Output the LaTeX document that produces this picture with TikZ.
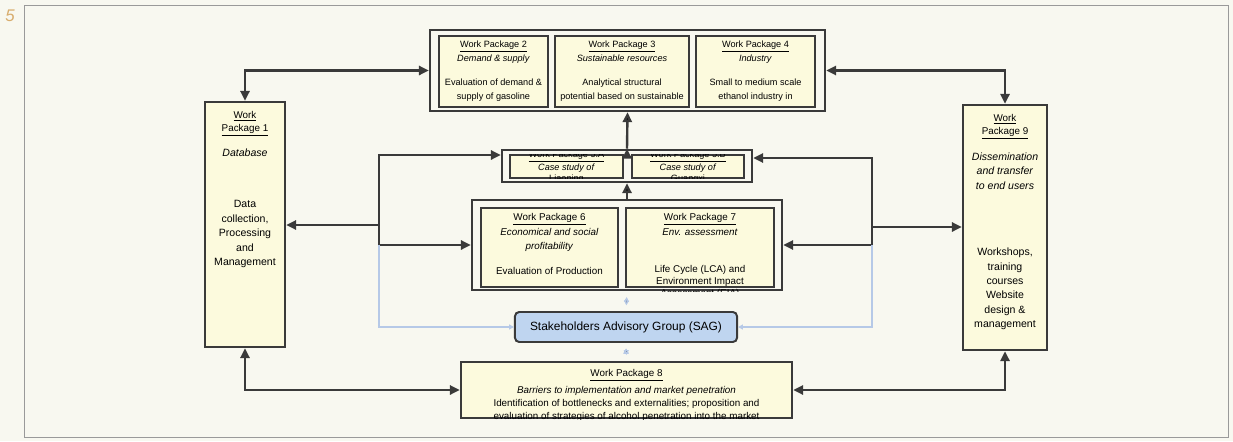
\documentclass[tikz,border=0pt]{standalone}
\usepackage{fontspec}
\setmainfont{Liberation Sans}
\usepackage{tikz}
\usetikzlibrary{arrows.meta,calc,fit}
\definecolor{paper}{HTML}{F8F8F0}
\definecolor{wpfill}{HTML}{FCFADD}
\definecolor{wpline}{HTML}{3A3A3A}
\definecolor{sagfill}{HTML}{BFD5F0}
\definecolor{sagline}{HTML}{B6C9E7}
\definecolor{framegray}{HTML}{9A9A9A}
\definecolor{pagenum}{HTML}{D8AD6E}
\tikzset{WP style/.style={>={Triangle[length=7pt,width=6.5pt]},every node/.append style={inner sep=0pt}}}
\newcommand{\wpname}[1]{\underline{Work Package #1}}
\newcommand{\wpfont}{\fontsize{6.5}{9.5}\selectfont}

\begin{document}
\begin{tikzpicture}[x=0.025cm,y=-0.025cm,WP style]
	\tikzstyle{group}=[draw=wpline,line width=1.8pt,fill=paper]
	\tikzstyle{wpbox}=[draw=wpline,line width=1.2pt,fill=wpfill]
	\tikzstyle{wpside}=[wpbox,line width=1.8pt]
	\tikzstyle{wptext}=[align=center,font=\wpfont]
	\tikzstyle{link}=[draw=wpline,line width=1.7pt]
	\tikzstyle{saglink}=[draw=sagline,line width=0.9pt,>={Triangle[length=3.5pt,width=3.5pt]}]
	
	\useasboundingbox (0,0) rectangle (1233,441);
	\fill[paper] (0,0) rectangle (1233,441);
	\draw[framegray,line width=0.7pt] (24,5) rectangle (1228,437);
	\node[text=pagenum,font=\fontsize{12}{12}\selectfont\itshape] (pagenum) at (10,16) {5};
	
	% groups of work packages
	\node[group,fit={(430,30) (825,111)}] (wptop) {};
	\node[group,fit={(502,150) (752,182)}] (wp5grp) {};
	\node[group,fit={(472,200) (782,290)}] (wp67grp) {};
	
	\node[wpbox,fit={(439,36) (548,107)}] (wp2) {};
	\node[wpbox,fit={(555,36) (689,107)}] (wp3) {};
	\node[wpbox,fit={(696,36) (815,107)}] (wp4) {};
	\node[wpbox,fit={(510,155) (623,178)}] (wp5a) {};
	\node[wpbox,fit={(632,155) (744,178)}] (wp5b) {};
	\node[wpbox,fit={(481,208) (618,287)}] (wp6) {};
	\node[wpbox,fit={(626,208) (774,287)}] (wp7) {};
	
	\node[wpside,fit={(205,102) (285,347)}] (wp1) {};
	\node[wpside,fit={(963,105) (1047,350)}] (wp9) {};
	\node[wpside,fit={(461,362) (792,418)}] (wp8) {};
	\node[draw=wpline,line width=1.4pt,fill=sagfill,rounded corners=3pt,
	minimum width=5.55cm,minimum height=0.75cm,
	font=\fontsize{8.5}{10}\selectfont] (sag) at (626,327) {Stakeholders Advisory Group (SAG)};
	
	% texts
	\node[wptext,anchor=north] (wp2txt) at (493.5,41) {\wpname{2}\\\textit{Demand \& supply}\\[8pt]Evaluation of demand \&\\supply of gasoline};
	\node[wptext,anchor=north] (wp3txt) at (622,41) {\wpname{3}\\\textit{Sustainable resources}\\[8pt]Analytical structural\\potential based on sustainable};
	\node[wptext,anchor=north] (wp4txt) at (755.5,41) {\wpname{4}\\\textit{Industry}\\[8pt]Small to medium scale\\ethanol industry in};
	\begin{scope}
		\clip (wp5a.north west) rectangle (wp5a.south east);
		\node[wptext,font=\fontsize{6.5}{7.8}\selectfont] (wp5atxt) at ($(wp5a.center)+(0,0.5)$) {\wpname{5.A}\\\textit{Case study of}\\Liaoning};
	\end{scope}
	\begin{scope}
		\clip (wp5b.north west) rectangle (wp5b.south east);
		\node[wptext,font=\fontsize{6.5}{7.8}\selectfont] (wp5btxt) at ($(wp5b.center)+(0,0.5)$) {\wpname{5.B}\\\textit{Case study of}\\Guangxi};
	\end{scope}
	\node[wptext,anchor=north,font=\fontsize{7}{10.5}\selectfont] (wp6txt) at (549.5,213) {\wpname{6}\\\textit{Economical and social}\\\textit{profitability}\\[7pt]Evaluation of Production};
	\node[wptext,anchor=north,font=\fontsize{7}{10.5}\selectfont] (wp7txt) at (700,213) {\wpname{7}\\\textit{Env. assessment}};
	\begin{scope}
		\clip (wp67grp.north west) rectangle (wp67grp.south east);
		\node[wptext,anchor=north,font=\fontsize{7}{8.5}\selectfont] (wp7body) at (700,265) {Life Cycle (LCA) and\\Environment Impact\\Assessment (EIA)};
	\end{scope}
	\begin{scope}
		\clip (wp8.north west) rectangle (wp8.south east);
		\node[wptext,anchor=north,font=\fontsize{7}{9.2}\selectfont] (wp8txt) at (626.5,369) {\wpname{8}\\[3pt]\textit{Barriers to implementation and market penetration}\\Identification of bottlenecks and externalities; proposition and\\evaluation of strategies of alcohol penetration into the market};
	\end{scope}
	
	\node[wptext,anchor=north,font=\fontsize{7}{9}\selectfont] (wp1title) at (245,111) {\underline{Work}\\\underline{Package 1}};
	\node[wptext,font=\fontsize{7.5}{10.3}\selectfont] (wp1focus) at (245,153) {\textit{Database}};
	\node[wptext,font=\fontsize{7.5}{10.3}\selectfont] (wp1body) at (245,234) {Data\\collection,\\Processing\\and\\Management};
	
	\node[wptext,anchor=north,font=\fontsize{7}{9}\selectfont] (wp9title) at (1005,114) {\underline{Work}\\\underline{Package 9}};
	\node[wptext,font=\fontsize{7.5}{10.3}\selectfont] (wp9focus) at (1005,171) {\textit{Dissemination}\\\textit{and transfer}\\\textit{to end users}};
	\node[wptext,font=\fontsize{7.5}{10.3}\selectfont] (wp9body) at (1005,289) {Workshops,\\training\\courses\\Website\\design \&\\management};
	
	% connectors
	\coordinate (jl) at (379,225);
	\coordinate (jr) at (872,227);
	
	\draw[link,<->] (wptop.west) -| (wp1.north);
	\draw[link,<->] (wptop.east) -| (wp9.north);
	\draw[link,->] (jl) -- (jl -| wp1.east);
	\draw[link,->] (jl) |- ($(wp5grp.west)+(0,-11)$);
	\draw[link,->] (jl) |- (wp67grp.west);
	\draw[link,->] (jr) -- (jr -| wp9.west);
	\draw[link,->] (jr) |- ($(wp5grp.east)+(0,-8)$);
	\draw[link,->] (jr) |- (wp67grp.east);
	\draw[link,<->] (wp1.south) |- (wp8.west);
	\draw[link,<->] (wp9.south) |- (wp8.east);
	\path[link,->]
	(wp67grp.north) edge (wp5grp.south)
	(wp5grp.north) edge (wptop.south)
	;
	\draw[saglink,->] (jl |- wp67grp.west) |- (sag.west);
	\draw[saglink,->] (jr |- wp67grp.east) |- (sag.east);
	\path[saglink,<->,shorten <=4pt,shorten >=4pt]
	(wp67grp.south) edge (sag.north)
	(sag.south) edge (wp8.north)
	;
\end{tikzpicture}
\end{document}
